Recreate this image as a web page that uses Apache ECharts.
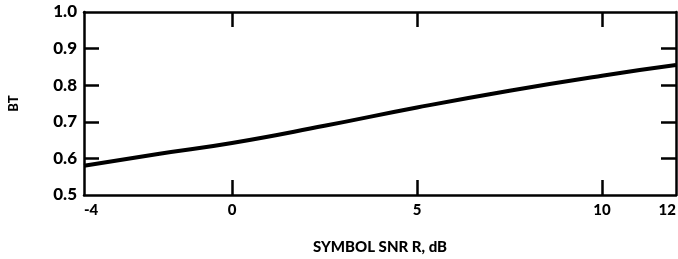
<!DOCTYPE html>
<html>
<head>
<meta charset="utf-8">
<script src="https://cdn.jsdelivr.net/npm/echarts@6/dist/echarts.min.js"></script>
<style>
  html, body { margin: 0; padding: 0; background: #fff; }
  #chart { width: 678px; height: 259px; }
</style>
</head>
<body>
<div id="chart"></div>
<script>
// Symbol SNR R (dB) vs BT
const snr = [-4, -2, 0, 2.5, 5, 7.5, 10, 12]
const bt = [0.58, 0.612, 0.642, 0.689, 0.739, 0.785, 0.826, 0.855]
const xLabels = [-4, 0, 5, 10, 12]
const xTicks = [0, 5, 10]
const yTicks = [0.6, 0.7, 0.8, 0.9]

const FONT = 'Lato'
const INK = '#000'

const chart = echarts.init(document.getElementById('chart'))

const axisLine = { show: true, onZero: false, lineStyle: { color: INK, width: 2.5 } }
const tick = (values) => ({
  show: true,
  inside: true,
  length: 15,
  customValues: values,
  lineStyle: { color: INK, width: 2.5 }
})

const option = {
  animation: false,
  grid: { left: 84, right: 2, top: 12, bottom: 64, outerBoundsMode: 'none' },
  xAxis: [
    {
      type: 'value',
      min: -4,
      max: 12,
      position: 'bottom',
      axisLine,
      axisTick: tick(xTicks),
      splitLine: { show: false },
      axisLabel: {
        customValues: xLabels,
        alignMinLabel: 'left',
        alignMaxLabel: 'right',
        margin: 8,
        color: INK,
        fontFamily: FONT,
        fontWeight: 900,
        fontSize: 15
      },
      name: 'SYMBOL SNR R, dB',
      nameLocation: 'middle',
      nameGap: 45,
      nameTextStyle: { color: INK, fontFamily: FONT, fontWeight: 900, fontSize: 15 }
    },
    {
      type: 'value',
      min: -4,
      max: 12,
      position: 'top',
      axisLine,
      axisTick: tick(xTicks),
      axisLabel: { show: false },
      splitLine: { show: false }
    }
  ],
  yAxis: [
    {
      type: 'value',
      min: 0.5,
      max: 1.0,
      interval: 0.1,
      position: 'left',
      axisLine,
      axisTick: tick(yTicks),
      splitLine: { show: false },
      axisLabel: {
        margin: 7,
        color: INK,
        fontFamily: FONT,
        fontWeight: 900,
        fontSize: 17,
        formatter: (v) => v.toFixed(1)
      },
      name: 'BT',
      nameLocation: 'middle',
      nameRotate: 90,
      nameGap: 64,
      nameTextStyle: { color: INK, fontFamily: FONT, fontWeight: 900, fontSize: 13 }
    },
    {
      type: 'value',
      min: 0.5,
      max: 1.0,
      interval: 0.1,
      position: 'right',
      axisLine,
      axisTick: tick(yTicks),
      axisLabel: { show: false },
      splitLine: { show: false }
    }
  ],
  series: [{
    type: 'line',
    data: snr.map((x, i) => [x, bt[i]]),
    smooth: true,
    showSymbol: false,
    lineStyle: { color: INK, width: 4 }
  }]
}

chart.setOption(option)
</script>
</body>
</html>
